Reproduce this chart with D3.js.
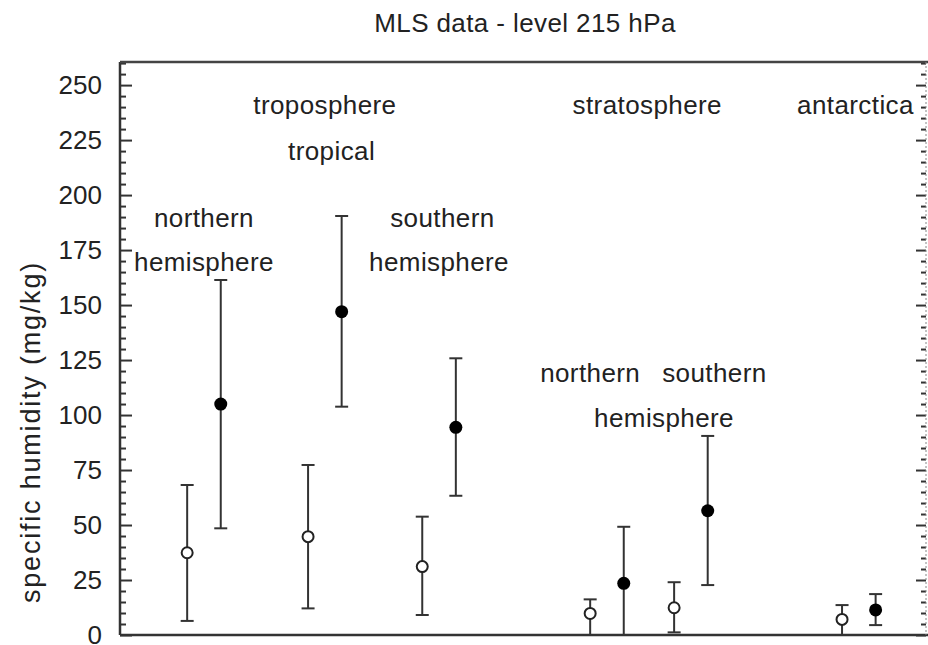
<!DOCTYPE html>
<html lang="en">
<head>
	<meta charset="UTF-8">
	<title>MLS data - level 215 hPa</title>
	<style>
		body { margin: 0; background: #fff; }
		text { font-family: "Liberation Sans", Arial, sans-serif; fill: #222; }
	</style>
</head>
<body>
	<script src="https://d3js.org/d3.v7.min.js"></script>
	<script type="text/javascript">
		// open circles
		var openX = [2, 5.6, 9, 14, 16.5, 21.5];
		var openVal = [37.4, 44.7, 31.1, 9.8, 12.4, 7.1];
		var openHi = [68.2, 77.3, 53.8, 16.2, 24, 13.6];
		var openLo = [6.4, 12.1, 9.1, 0, 1.2, 0];
		// filled circles
		var fillX = [3, 6.6, 10, 15, 17.5, 22.5];
		var fillVal = [105, 147, 94.4, 23.5, 56.5, 11.4];
		var fillHi = [161.4, 190.5, 125.8, 49.2, 90.5, 18.6];
		var fillLo = [48.5, 103.8, 63.3, 0, 22.7, 4.5];
		// annotations, in data units
		var noteText = ["troposphere", "tropical", "northern", "hemisphere", "southern", "hemisphere",
			"stratosphere", "antarctica", "northern", "southern", "hemisphere"];
		var noteX = [6.1, 6.3, 2.5, 2.5, 9.6, 9.5, 15.7, 21.9, 14.0, 17.7, 16.2];
		var noteY = [237, 216, 185.6, 165.6, 185.6, 165.6, 237, 237, 115, 115, 94.5];
		var majorTicks = [0, 25, 50, 75, 100, 125, 150, 175, 200, 225, 250];

		var W = 928, H = 645;
		var pLeft = 120, pRight = 926, pTop = 62, pBottom = 635;

		var svg = d3.select("body").append("svg").attr("width", W).attr("height", H);

		var x = d3.scaleLinear().domain([0, 24]).range([pLeft, pRight]);
		var y = d3.scaleLinear().domain([0, 260.5]).range([pBottom, pTop]);

		var minorTicks = d3.range(0, 261, 5).filter(function(v){ return v % 25 != 0; });

		//左右轴
		var yLeft = d3.axisRight(y).tickValues(majorTicks).tickSize(12).tickFormat("");
		var yLeftMinor = d3.axisRight(y).tickValues(minorTicks).tickSize(6).tickFormat("");
		var yRight = d3.axisLeft(y).tickValues(majorTicks).tickSize(10).tickFormat("");
		var yRightMinor = d3.axisLeft(y).tickValues(minorTicks).tickSize(5).tickFormat("");

		[[yLeft, pLeft], [yLeftMinor, pLeft], [yRight, pRight], [yRightMinor, pRight]].forEach(function(a){
			var g = svg.append("g").attr("transform", "translate(" + a[1] + ",0)").call(a[0]);
			g.select(".domain").remove();
			g.selectAll("line").attr("stroke", "#333").attr("stroke-width", 2);
		});

		// tick labels
		svg.selectAll(".ylab").data(majorTicks).enter().append("text")
			.attr("class", "ylab")
			.attr("x", pLeft - 18)
			.attr("y", function(d){ return y(d); })
			.attr("dy", "0.35em")
			.attr("text-anchor", "end")
			.style("font-size", "26px")
			.text(function(d){ return d; });

		// frame
		svg.append("line").attr("x1", pLeft).attr("x2", pLeft).attr("y1", pTop).attr("y2", pBottom)
			.attr("stroke", "#333").attr("stroke-width", 2.5);
		svg.append("line").attr("x1", pLeft).attr("x2", W).attr("y1", pTop).attr("y2", pTop)
			.attr("stroke", "#444").attr("stroke-width", 2.5);
		svg.append("line").attr("x1", pLeft).attr("x2", W).attr("y1", pBottom).attr("y2", pBottom)
			.attr("stroke", "#333").attr("stroke-width", 2.5);
		svg.append("line").attr("x1", pRight).attr("x2", pRight).attr("y1", pTop).attr("y2", pBottom)
			.attr("stroke", "#888").attr("stroke-width", 1).attr("stroke-dasharray", "2,2");

		function errorBars(xs, lo, hi) {
			var g = svg.append("g").attr("stroke", "#333").attr("stroke-width", 2).attr("fill", "none");
			xs.forEach(function(v, i){
				g.append("line").attr("x1", x(v)).attr("x2", x(v)).attr("y1", y(lo[i])).attr("y2", y(hi[i]));
				g.append("line").attr("x1", x(v) - 6.5).attr("x2", x(v) + 6.5).attr("y1", y(lo[i])).attr("y2", y(lo[i]));
				g.append("line").attr("x1", x(v) - 6.5).attr("x2", x(v) + 6.5).attr("y1", y(hi[i])).attr("y2", y(hi[i]));
			});
		}
		errorBars(openX, openLo, openHi);
		errorBars(fillX, fillLo, fillHi);

		svg.selectAll(".open").data(openX).enter().append("circle")
			.attr("class", "open")
			.attr("cx", function(d){ return x(d); })
			.attr("cy", function(d, i){ return y(openVal[i]); })
			.attr("r", 5.5)
			.attr("fill", "#fff")
			.attr("stroke", "#222")
			.attr("stroke-width", 2);

		svg.selectAll(".filled").data(fillX).enter().append("circle")
			.attr("class", "filled")
			.attr("cx", function(d){ return x(d); })
			.attr("cy", function(d, i){ return y(fillVal[i]); })
			.attr("r", 6.5)
			.attr("fill", "#000");

		// annotations
		svg.selectAll(".note").data(noteText).enter().append("text")
			.attr("class", "note")
			.attr("x", function(d, i){ return x(noteX[i]); })
			.attr("y", function(d, i){ return y(noteY[i]); })
			.attr("text-anchor", "middle")
			.style("font-size", "26px")
			.style("letter-spacing", "0.4px")
			.text(function(d){ return d; });

		// title
		svg.append("text")
			.attr("x", 525).attr("y", 32)
			.attr("text-anchor", "middle")
			.style("font-size", "26px")
			.style("letter-spacing", "0.4px")
			.text("MLS data - level 215 hPa");

		// y label
		svg.append("text")
			.attr("transform", "translate(40," + 432 + ") rotate(-90)")
			.attr("text-anchor", "middle")
			.style("font-size", "27px")
			.style("letter-spacing", "1.8px")
			.text("specific humidity (mg/kg)");
	</script>
</body>
</html>
